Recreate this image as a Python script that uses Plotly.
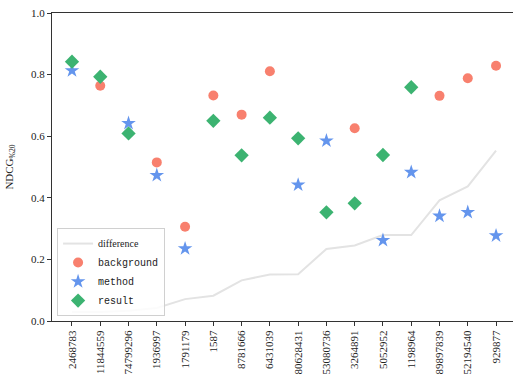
import plotly.graph_objects as go

categories = ["2468783", "11844559", "74799296", "1936997", "1791179", "1587",
              "8781666", "6431039", "80628431", "53080736", "3264891", "5052952",
              "1198964", "89897839", "52194540", "929877"]

background = [None, 0.764, None, 0.515, 0.306, 0.732, 0.670, 0.811, None, None,
              0.626, None, None, 0.731, 0.788, 0.829]
method = [0.813, None, 0.642, 0.473, 0.235, None, None, None, 0.442, 0.585,
          None, 0.262, 0.483, 0.341, 0.353, 0.277]
result = [0.842, 0.793, 0.609, None, None, 0.650, 0.538, 0.660, 0.593, 0.353,
          0.382, 0.539, 0.759, None, None, None]
difference = [0.029, 0.029, 0.033, 0.042, 0.071, 0.082, 0.132, 0.151, 0.152,
              0.234, 0.245, 0.279, 0.279, 0.392, 0.437, 0.553]

xi = list(range(len(categories)))
mono = "Liberation Mono"
serif = "Liberation Serif"

fig = go.Figure()
fig.add_trace(go.Scatter(x=xi, y=difference, mode="lines",
                         name=f'<span style="font-family:{serif}">difference</span>',
                         line=dict(color="#E3E3E3", width=2)))
fig.add_trace(go.Scatter(x=xi, y=background, mode="markers",
                         name=f'<span style="font-family:{mono}">background</span>',
                         marker=dict(symbol="circle", size=10, color="#F8806E")))
fig.add_trace(go.Scatter(x=xi, y=method, mode="markers",
                         name=f'<span style="font-family:{mono}">method</span>',
                         marker=dict(symbol="star", size=11, color="#6495ED")))
fig.add_trace(go.Scatter(x=xi, y=result, mode="markers",
                         name=f'<span style="font-family:{mono}">result</span>',
                         marker=dict(symbol="diamond", size=11, color="#3CB371")))

fig.update_layout(
    width=513, height=375,
    margin=dict(l=52, r=0, t=13, b=54),
    paper_bgcolor="white", plot_bgcolor="white",
    font=dict(family=serif, size=11, color="#222"),
    showlegend=True,
    legend=dict(x=0.011, y=0.016, xanchor="left", yanchor="bottom",
                bgcolor="rgba(255,255,255,0.85)", bordercolor="#D0D0D0", borderwidth=1,
                font=dict(size=10, family=serif),
                tracegroupgap=0, itemwidth=30),
    xaxis=dict(range=[-0.707, 15.6], tickmode="array", tickvals=xi, ticktext=categories,
               tickangle=-90, showgrid=False, zeroline=False, automargin=False,
               showline=True, linecolor="#333", linewidth=1, mirror=True,
               ticks="outside", ticklen=4, tickcolor="#333",
               tickfont=dict(size=11)),
    yaxis=dict(range=[0, 1.0], tickmode="array", tickvals=[0, 0.2, 0.4, 0.6, 0.8, 1.0],
               ticktext=["0.0", "0.2", "0.4", "0.6", "0.8", "1.0"],
               showgrid=False, zeroline=False, automargin=False,
               showline=True, linecolor="#333", linewidth=1,
               ticks="outside", ticklen=4, tickcolor="#333",
               tickfont=dict(size=11),
               title=dict(text="NDCG<sub>%20</sub>", font=dict(size=11))),
)

fig.write_html("out.html", config={"displayModeBar": False},
               post_script="document.body.style.margin='0';document.body.style.overflow='hidden';")
